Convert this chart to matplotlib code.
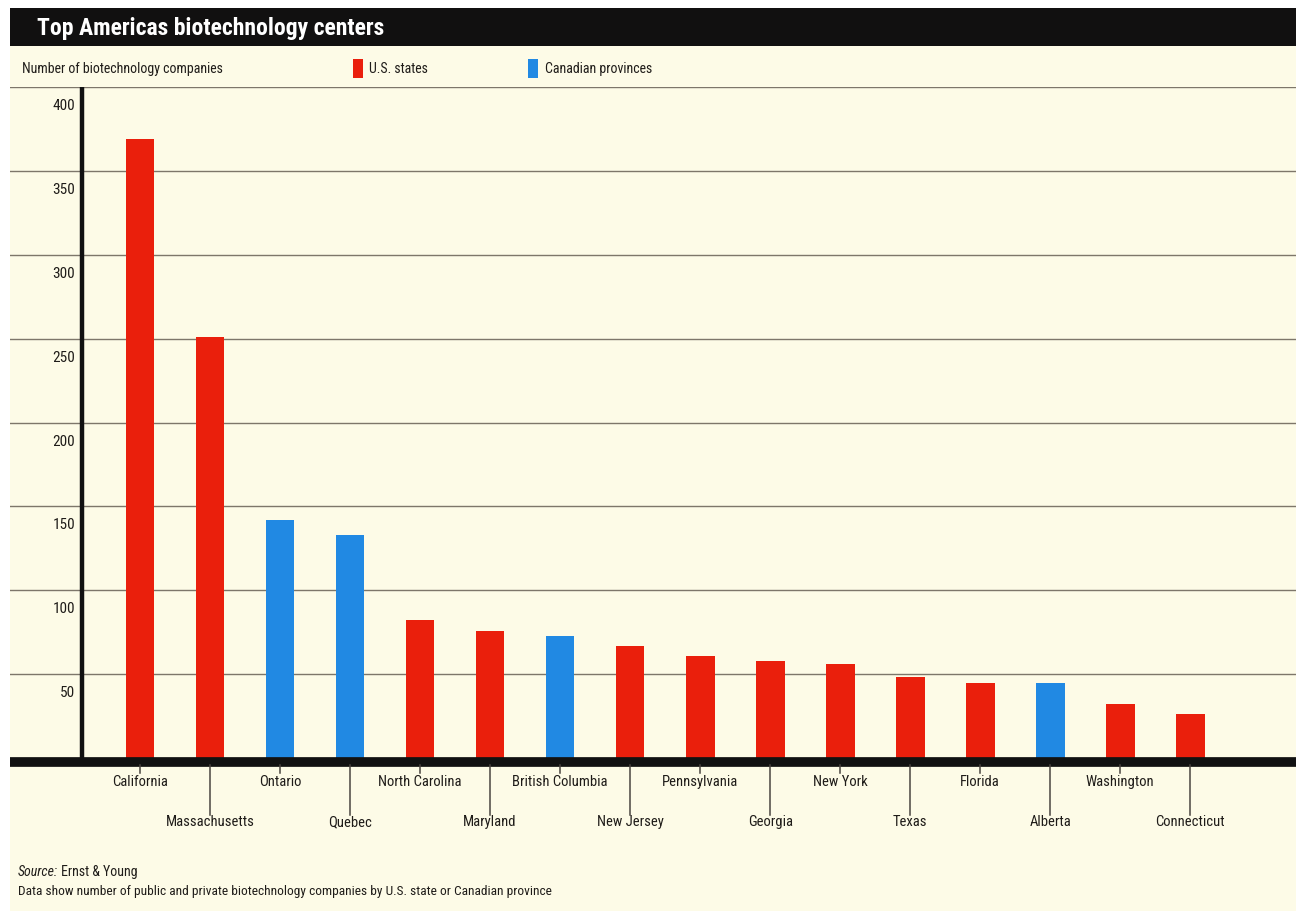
import matplotlib
matplotlib.use("Agg")
import matplotlib.pyplot as plt
from matplotlib.patches import Rectangle
import matplotlib.transforms as mtransforms
from matplotlib import font_manager

categories = ["California", "Massachusetts", "Ontario", "Quebec", "North Carolina",
              "Maryland", "British Columbia", "New Jersey", "Pennsylvania", "Georgia",
              "New York", "Texas", "Florida", "Alberta", "Washington", "Connecticut"]
values = [369, 251, 142, 133, 82, 76, 73, 67, 61, 58, 56, 48, 45, 45, 32, 26]
groups = ["US", "US", "CA", "CA", "US", "US", "CA", "US", "US", "US",
          "US", "US", "US", "CA", "US", "US"]
yticks = [50, 100, 150, 200, 250, 300, 350, 400]

RED = "#EA1F0C"
BLUE = "#2189E3"
CREAM = "#FDFBE7"
GRID = "#7d766a"
TEXT = "#1f1c19"

names = sorted({f.name for f in font_manager.fontManager.ttflist})
narrow = [n for n in names if ("Narrow" in n or "Condensed" in n)]
pref = ["Liberation Sans Narrow", "Roboto Condensed", "Open Sans Condensed", "DejaVu Sans Condensed"]
FONT = None
for p in pref:
    if p in names:
        FONT = p
        break
if FONT is None:
    FONT = narrow[0] if narrow else "DejaVu Sans"
plt.rcParams["font.family"] = [FONT, "DejaVu Sans"]
plt.rcParams["font.stretch"] = "condensed"

W, H = 1296, 911
fig = plt.figure(figsize=(W / 100, H / 100), dpi=100)
fig.patch.set_facecolor("white")

def fx(px):
    return px / W

def fy(py):
    return 1 - py / H

# cream panel
fig.patches.append(Rectangle((fx(10), 0), 1 - fx(10), fy(8), transform=fig.transFigure,
                             facecolor=CREAM, edgecolor="none", zorder=-10))
# title bar
fig.patches.append(Rectangle((fx(10), fy(46)), 1 - fx(10), fy(8) - fy(46), transform=fig.transFigure,
                             facecolor="#111010", edgecolor="none", zorder=1))
fig.text(fx(37), fy(29), "Top Americas biotechnology centers", color="white",
         fontsize=17, fontweight="bold", va="center", ha="left")

# axes: x from 10 to 1296 px, y from 87 (400) to 758 (0)
ax = fig.add_axes([fx(10), fy(758), 1 - fx(10), fy(87) - fy(758)])
ax.set_facecolor("none")
x = list(range(len(categories)))
colors = [RED if g == "US" else BLUE for g in groups]
ax.bar(x, values, width=0.41, color=colors, zorder=3)

ax.set_xlim(-1.857, 16.51)
ax.set_ylim(0, 400)
for s in ax.spines.values():
    s.set_visible(False)

for yv in yticks:
    ax.axhline(yv, color=GRID, lw=1.0, zorder=1)
ax.axvline(-0.83, color="#111111", lw=3.2, zorder=4)
base_off = mtransforms.offset_copy(ax.transData, fig=fig, x=0, y=-3.5, units="dots")
ax.plot([-1.857, 16.51], [0, 0], color="#111111", lw=7, zorder=5, transform=base_off,
        solid_capstyle="butt", clip_on=False)

ax.set_xticks([])
ax.set_yticks([])

# y labels (drawn below each gridline)
off = mtransforms.offset_copy(ax.transData, fig=fig, x=0, y=-19, units="dots")
for yv in yticks:
    ax.text(-0.93, yv, str(yv), transform=off, ha="right", va="center",
            fontsize=11, color=TEXT)

# x labels, alternating with leader lines
for i, name in enumerate(categories):
    xd = ax.transData.transform((i, 0))[0]
    if i % 2 == 0:
        y0, y1, ylab = 765, 773, 782
    else:
        y0, y1, ylab = 765, 815, 822
    fig.add_artist(plt.Line2D([xd / W, xd / W], [fy(y0), fy(y1)], color="#4a4540", lw=1.1,
                              transform=fig.transFigure, zorder=2))
    fig.text(xd / W, fy(ylab), name, ha="center", va="center", fontsize=10.5, color=TEXT)

# header row / legend
fig.text(fx(22), fy(69), "Number of biotechnology companies", ha="left", va="center",
         fontsize=10, color=TEXT)
fig.patches.append(Rectangle((fx(353), fy(78)), fx(10), fy(59) - fy(78), transform=fig.transFigure,
                             facecolor=RED, edgecolor="none", zorder=2))
fig.text(fx(369), fy(69), "U.S. states", ha="left", va="center", fontsize=10, color=TEXT)
fig.patches.append(Rectangle((fx(528), fy(78)), fx(10), fy(59) - fy(78), transform=fig.transFigure,
                             facecolor=BLUE, edgecolor="none", zorder=2))
fig.text(fx(545), fy(69), "Canadian provinces", ha="left", va="center", fontsize=10, color=TEXT)

# footer
t = fig.text(fx(18), fy(872), "Source:", ha="left", va="center", fontsize=10, color=TEXT,
             style="italic")
fig.canvas.draw()
bb = t.get_window_extent()
fig.text((bb.x1 + 3) / W, fy(872), "Ernst & Young", ha="left", va="center", fontsize=10, color=TEXT)
fig.text(fx(18), fy(891), "Data show number of public and private biotechnology companies by U.S. state or Canadian province",
         ha="left", va="center", fontsize=9.6, color=TEXT)

fig.savefig("out.png", dpi=100, facecolor=fig.get_facecolor())
